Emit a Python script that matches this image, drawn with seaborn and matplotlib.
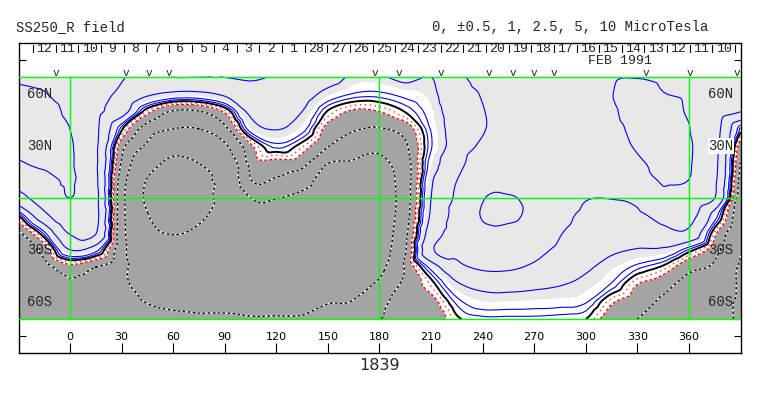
"""
Synoptic chart of the source-surface radial field (SS250_R),
Carrington rotation 1839, drawn from values read off the WSO map.
"""
import numpy as np
import matplotlib
matplotlib.use("Agg")
import matplotlib.pyplot as plt
import matplotlib.tri as mtri
import seaborn as sns

# ── Field, read on a 15 deg x 10 deg grid (microtesla) ──────────
LONGITUDES = list(range(-30, 391, 15))
LATITUDES = [70, 60, 50, 40, 30, 20, 10, 0, -10, -20, -30, -40, -50, -60, -70]

# one row per latitude, west -> east
B_70N = [9, 9.0, 7.0, 6, 5.2, 4, 5.05, 5.05, 5.05, 5.3, 4.8, 4.2, 3.5, 2.2, 2.2, 3.2, 2.5,
         4.6, 5.4, 5.6, 5.8, 6, 7, 9.6, 9.9, 9.5, 9, 6, 5.6]
B_60N = [11.5, 10.3, 7.5, 5.8, 4.5, 2.8, 2.0, 2.0, 2.8, 4, 4.2, 3.5, 1.8, 0.9, 0.8, 1.3, 2.0,
         4.2, 5.1, 5.7, 6, 6.5, 7.5, 9.9, 11, 10.1, 9.4, 6.5, 5.3]
B_50N = [12.5, 12.5, 8.6, 5.7, 3.5, -0.6, -2.7, -2.6, -0.8, 3.0, 3.6, 2.5, -0.1, -1.2, -1.0, 0.05, 1.5,
         3.8, 4.9, 6, 6.5, 7, 8, 9.6, 11, 11, 9.6, 6.5, 5.05]
B_40N = [12.5, 13, 10, 5.6, 0.2, -3.5, -5, -5, -3.0, 1.5, 2.6, 1.4, -1.5, -2.3, -2.6, -1.8, 1.1,
         3.5, 4.8, 6.5, 7, 7.5, 8.5, 9.4, 10.5, 11, 10.1, 6.2, 0.3]
B_30N = [11, 12.5, 10.5, 5.5, -1.8, -5.5, -8.5, -8, -5.5, -1.3, 0.7, -0.4, -2.4, -3.9, -4.4, -2.8, 0.9,
         3.5, 5.5, 7.2, 7.5, 8, 8.8, 9.2, 10.2, 10.8, 10.4, 6, -1.8]
B_20N = [9.5, 11, 10.5, 5.5, -2.7, -8, -11, -10, -8, -2.0, -1.5, -1.9, -5, -5.3, -5.6, -3.4, 1.5,
         4, 7, 8, 8, 8.2, 8.5, 8.5, 9.6, 10.6, 10.3, 5.8, -2.6]
B_10N = [6.5, 8, 10.5, 5.6, -3.6, -10.3, -13, -10.8, -8.8, -2.6, -2.8, -3.8, -6.5, -6.3, -6.3, -3.6, 2.2,
         5, 8.5, 9, 8.5, 8, 7, 7, 8, 10.3, 9.9, 5.5, -3.2]
B_EQ = [4, 6.5, 10, 5.8, -4, -10.8, -13.5, -11, -9, -5, -4.9, -5.8, -7, -6.8, -6.6, -3.6, 2.5,
        5.5, 9.8, 10.2, 9.2, 7, 5.2, 5.1, 5.8, 9.2, 7.5, 5, -3.8]
B_10S = [0, 4.3, 7.5, 5.8, -4, -9.8, -12.5, -10.5, -9, -6, -6, -6.5, -7.2, -7, -6.6, -3.4, 2.8,
         6, 10.3, 10.6, 9, 6, 4.5, 4.2, 4.4, 6, 6, 1.6, -4.2]
B_20S = [-2.8, 0.8, 5.3, 5.2, -4, -9, -10.2, -9.5, -8.5, -6.8, -6.6, -6.8, -7.2, -7, -6.4, -3.0, 3.6,
         6, 9, 9, 8, 5.2, 4.1, 3.5, 3.5, 4.3, 4.5, -0.6, -4.6]
B_30S = [-4.0, -1.8, 2.5, 1.4, -4, -8.5, -8.5, -8.5, -8, -7, -6.8, -6.8, -7, -6.8, -6.1, -2.7, 4.6,
         5.6, 7, 7, 6, 4.4, 3.6, 2.8, 2.4, 2.2, 0.4, -1.8, -4.9]
B_40S = [-4.4, -3.2, -1.5, -2.5, -4, -8, -8, -8, -7.8, -7, -6.8, -6.6, -6.6, -6.4, -5.6, -2.3, 1.4,
         4.3, 5.4, 5.4, 4.6, 3.6, 2.8, 1.8, 0.7, -0.2, -2, -2.8, -5.3]
B_50S = [-4.6, -4, -2.8, -3.5, -4.2, -7, -7.5, -7.5, -7.5, -6.8, -6.5, -6.3, -6, -5.6, -4.6, -2.0, -0.4,
         2.2, 3.2, 3.3, 3, 2.6, 2.0, 0.9, -1.0, -1.8, -3.3, -3.6, -5.3]
B_60S = [-4.5, -4.2, -3.3, -3.8, -4.5, -5.1, -5.8, -6, -6, -6, -5.8, -5.7, -5.1, -4.9, -3.0, -1.9, -1.5,
         0.7, 1.6, 1.6, 1.5, 1.4, 1.1, -0.8, -1.8, -2.8, -4, -4.3, -5.3]
B_70S = [-4.3, -4.1, -3.4, -3.8, -4.3, -4, -4.2, -4.5, -4.5, -4.8, -4.8, -4.8, -4.3, -4.2, -2.6, -1.8, -2.2,
         -0.2, 0.3, 0.3, 0.3, 0.2, 0, -1.8, -2.5, -3.3, -4, -4.3, -5.3]

POS_LEVELS = [0.5, 1, 2.5, 5, 10]
NEG_LEVELS = [-10, -5, -2.5]

# ── Annotations ────────────────────────────────────────────────
DAY_LABELS = ["12", "11", "10", "9", "8", "7", "6", "5", "4", "3", "2", "1",
              "28", "27", "26", "25", "24", "23", "22", "21", "20", "19", "18",
              "17", "16", "15", "14", "13", "12", "11", "10"]
OBS_LONS = [-8.1, 32.6, 46.2, 57.8, 177.5, 191.1, 215.8, 243.5, 257.5,
            270.1, 281.3, 335.1, 360.5, 387.6]
LON_TICKS = [0, 30, 60, 90, 120, 150, 180, 210, 240, 270, 300, 330, 360]
LAT_MARKS = [60, 30, -30, -60]
LAT_NAMES = ["60N", "30N", "30S", "60S"]
GUIDE_LONS = [0, 180, 360]

DARK = "#a4a4a4"
LIGHT = "#e8e8e8"
GREEN = "#00ff00"
MONO = ["Liberation Mono", "DejaVu Sans Mono"]

sns.set_theme(style="white")
plt.rcParams["font.family"] = MONO

field = np.array([B_70N, B_60N, B_50N, B_40N, B_30N, B_20N, B_10N, B_EQ,
                  B_10S, B_20S, B_30S, B_40S, B_50S, B_60S, B_70S], dtype=float)
lon_g, lat_g = np.meshgrid(LONGITUDES, LATITUDES)

tri = mtri.Triangulation(lon_g.ravel(), lat_g.ravel())
interp = mtri.CubicTriInterpolator(tri, field.ravel(), kind="geom")
refiner = mtri.UniformTriRefiner(tri)
tri_f, b_f = refiner.refine_field(field.ravel(), triinterpolator=interp, subdiv=3)

fig = plt.figure(figsize=(7.63, 3.96), dpi=100)
ax = fig.add_axes([19 / 763, 43 / 396, 722 / 763, 310 / 396])
ax.set_xlim(-29.66, 390.25)
ax.set_ylim(-89.67, 89.67)

# fills: strongly negative dark, positive beyond the inner contours light
ax.tricontourf(tri_f, b_f, levels=[-100, -1, 1.7, 100],
               colors=[DARK, "white", LIGHT], zorder=1)

# contour lines
ax.tricontour(tri_f, b_f, levels=POS_LEVELS, colors="#0000ff",
              linewidths=0.8, zorder=3)
ax.tricontour(tri_f, b_f, levels=NEG_LEVELS, colors="white",
              linewidths=0.9, zorder=3)
cs = ax.tricontour(tri_f, b_f, levels=NEG_LEVELS, colors="black",
                   linewidths=0.9, zorder=4)
cs.set_linestyle((0, (2, 2)))
cs = ax.tricontour(tri_f, b_f, levels=[-1], colors="red", linewidths=0.9, zorder=4)
cs.set_linestyle((0, (2.5, 1.5)))
cs = ax.tricontour(tri_f, b_f, levels=[-0.5], colors="red", linewidths=0.9, zorder=4)
cs.set_linestyle((0, (1, 3)))
ax.tricontour(tri_f, b_f, levels=[0], colors="black", linewidths=1.4, zorder=5)

# green guide lines
for lat in (70, 0, -70):
    ax.plot([-29.66, 390.25], [lat, lat], color=GREEN, lw=1.0, zorder=6)
for lon in GUIDE_LONS:
    ax.plot([lon, lon], [-70, 70], color=GREEN, lw=1.0, zorder=6)

# frame ticks
ax.set_xticks(LON_TICKS)
ax.set_yticks([-79.8] + list(range(-70, 71, 10)) + [79.8])
ax.tick_params(axis="x", direction="in", length=7.2, width=0.8, color="black",
               bottom=True, top=False, labelbottom=False)
ax.tick_params(axis="y", direction="in", length=5, width=0.8, color="black",
               left=True, right=True, labelleft=False)
for sp in ax.spines.values():
    sp.set_color("black")
    sp.set_linewidth(1.0)
ax.grid(False)

# longitude labels inside the lower band
for lon in LON_TICKS:
    ax.text(lon, -80.6, str(lon), ha="center", va="center", fontsize=8,
            family=["DejaVu Sans"], color="black", zorder=7)

# latitude labels
for lat, name in zip(LAT_MARKS, LAT_NAMES):
    ax.text(-25.0, lat, name, ha="left", va="center", fontsize=10, zorder=7)
    box = dict(facecolor="white", edgecolor="none", pad=0.5) if name == "30N" else None
    ax.text(385.9, lat, name, ha="right", va="center", fontsize=10, zorder=7,
            bbox=box)

# day-of-month row along the top band
day0, day_step = -21.5, 13.17
for k in range(len(DAY_LABELS) + 1):
    x = day0 + k * day_step
    ax.plot([x, x], [88.6, 84.6], color="black", lw=0.8, zorder=7)
for k, lab in enumerate(DAY_LABELS):
    ax.text(day0 + (k + 0.5) * day_step, 86.2, lab, ha="center", va="center",
            fontsize=9.5, zorder=7)
ax.text(319.9, 79.4, "FEB 1991", ha="center", va="center", fontsize=9.5, zorder=7)
for lon in OBS_LONS:
    ax.text(lon, 70.4, "v", ha="center", va="baseline", fontsize=8, zorder=7)

# headers
fig.text(16 / 763, 1 - 31 / 396, "SS250_R field", ha="left", va="baseline",
         fontsize=10)
fig.text(432 / 763, 1 - 31 / 396, "0, \u00b10.5, 1, 2.5, 5, 10 MicroTesla",
         ha="left", va="baseline", fontsize=10)
fig.text(380 / 763, 1 - 366 / 396, "1839", ha="center", va="center",
         fontsize=11.5, family=["DejaVu Sans"])

fig.savefig("out.png", dpi=100, facecolor="white")
